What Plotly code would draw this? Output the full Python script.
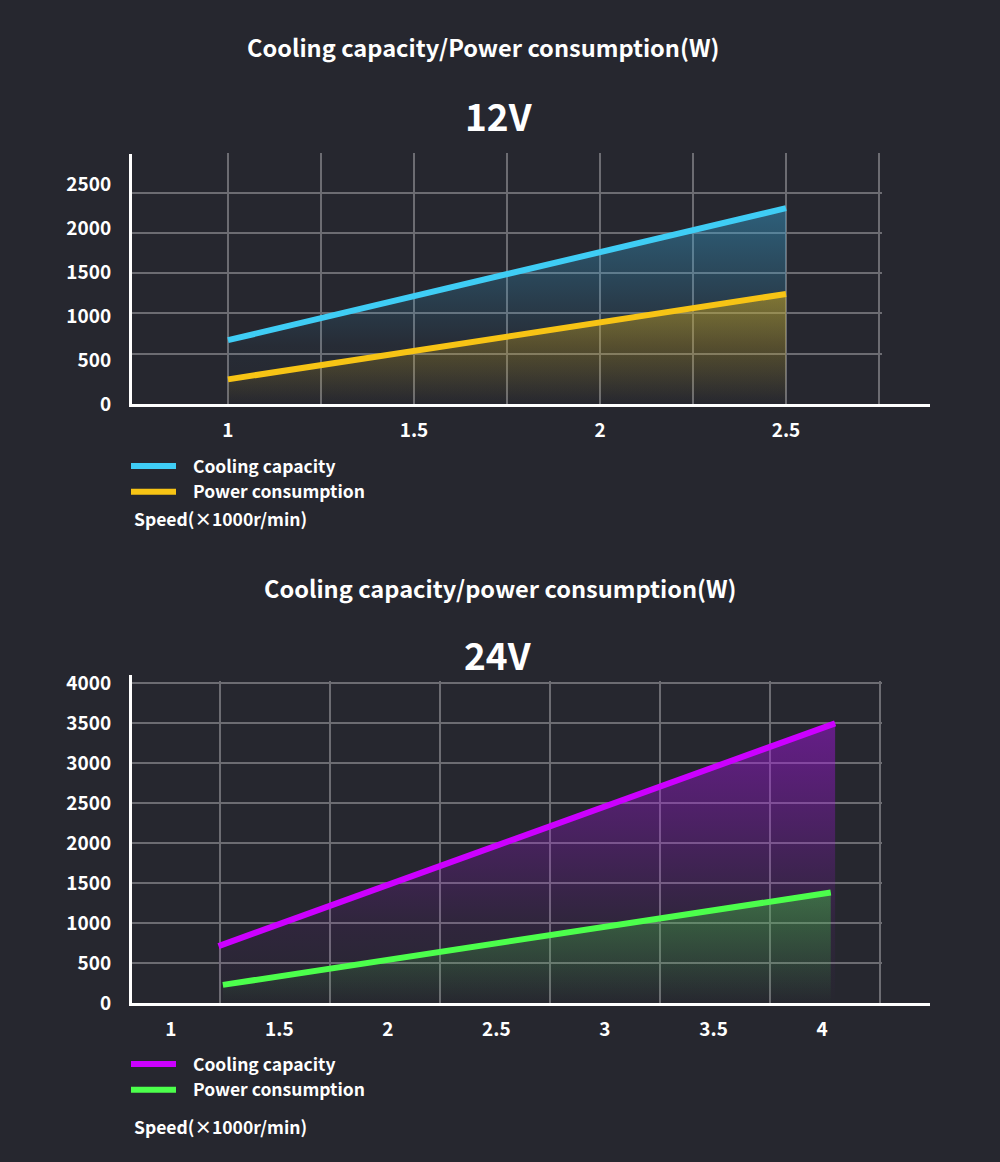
import plotly.graph_objects as go

# ---------------- data ----------------
speed_12v = [1.0, 2.5]
cooling_12v = [725, 2225]
power_12v = [280, 1250]

speed_24v_cooling = [1.22, 4.06]
cooling_24v = [715, 3500]
speed_24v_power = [1.24, 4.04]
power_24v = [230, 1385]

x_ticks_12v = [1, 1.5, 2, 2.5]
x_ticklabels_12v = ["1", "1.5", "2", "2.5"]
y_ticks_12v = [0, 500, 1000, 1500, 2000, 2500]

x_ticks_24v = [1, 1.5, 2, 2.5, 3, 3.5, 4]
x_ticklabels_24v = ["1", "1.5", "2", "2.5", "3", "3.5", "4"]
y_ticks_24v = [0, 500, 1000, 1500, 2000, 2500, 3000, 3500, 4000]

series_names = ["Cooling capacity", "Power consumption"]
title_12v = "Cooling capacity/Power consumption(W)"
title_24v = "Cooling capacity/power consumption(W)"
x_title = "Speed(×1000r/min)"

# ---------------- styling ----------------
W, H = 1000, 1162
BG = "#26272f"
GRID = "#6c6c72"
FONT = "Noto Sans CJK SC"
PAD = "\u00a0\u00a0\u00a0"

def px(v):
    return v / W

def py(v):
    return 1 - v / H

C_BLUE = "#3fcdf5"
C_YELLOW = "#f7c415"
C_PURPLE = "#cc00ff"
C_GREEN = "#4cff4c"

fig = go.Figure()

# grid-only subplots (drawn first so they sit beneath the data)
grid_x_12v = [1, 1.25, 1.5, 1.75, 2, 2.25, 2.5, 2.75]
grid_y_12v = [1, 2, 3, 4, 5]
grid_x_24v = [0, 1, 2, 3, 4, 5, 6]
grid_y_24v = [500, 1000, 1500, 2000, 2500, 3000, 3500, 4000]

fig.add_trace(go.Scatter(x=[None], y=[None], xaxis="x", yaxis="y", showlegend=False, hoverinfo="skip"))
fig.add_trace(go.Scatter(x=[None], y=[None], xaxis="x2", yaxis="y2", showlegend=False, hoverinfo="skip"))


def fill_trace(x, y, color_rgb, stops, xa, ya):
    r, g, b = color_rgb
    return go.Scatter(
        x=x, y=y, xaxis=xa, yaxis=ya, mode="lines",
        line=dict(width=0), fill="tozeroy",
        fillgradient=dict(type="vertical", colorscale=[
            [s, f"rgba({r},{g},{b},{a})"] for s, a in stops]),
        showlegend=False, hoverinfo="skip")


def line_trace(x, y, color, name, xa, ya, legend):
    return go.Scatter(
        x=x, y=y, xaxis=xa, yaxis=ya, mode="lines", name=PAD + name,
        line=dict(color=color, width=6), legend=legend)

# 12V
fig.add_trace(fill_trace(speed_12v, cooling_12v, (55, 165, 215),
                         [(0, 0), (0.3, 0.04), (0.6, 0.22), (1, 0.45)], "x3", "y3"))
fig.add_trace(fill_trace(speed_12v, power_12v, (215, 172, 25),
                         [(0, 0), (0.35, 0.18), (1, 0.5)], "x3", "y3"))
fig.add_trace(line_trace(speed_12v, cooling_12v, C_BLUE, series_names[0], "x3", "y3", "legend"))
fig.add_trace(line_trace(speed_12v, power_12v, C_YELLOW, series_names[1], "x3", "y3", "legend"))

# 24V
fig.add_trace(fill_trace(speed_24v_cooling, cooling_24v, (165, 20, 225),
                         [(0, 0), (0.3, 0.08), (0.65, 0.3), (1, 0.5)], "x4", "y4"))
fig.add_trace(fill_trace(speed_24v_power, power_24v, (70, 205, 70),
                         [(0, 0), (0.4, 0.18), (1, 0.42)], "x4", "y4"))
fig.add_trace(line_trace(speed_24v_cooling, cooling_24v, C_PURPLE, series_names[0], "x4", "y4", "legend2"))
fig.add_trace(line_trace(speed_24v_power, power_24v, C_GREEN, series_names[1], "x4", "y4", "legend2"))

tickfont = dict(family=FONT, size=19, color="white", weight="bold")

grid_axis = dict(showgrid=True, gridcolor=GRID, gridwidth=2, showticklabels=False,
                 zeroline=False, showline=False, ticks="", fixedrange=True)
data_axis = dict(showgrid=False, zeroline=False, showline=True, linecolor="white",
                 linewidth=3, ticks="", tickfont=tickfont, fixedrange=True,
                 automargin=False)

legend_font = dict(family=FONT, size=17.5, color="white", weight="bold")

fig.update_layout(
    width=W, height=H,
    margin=dict(l=0, r=0, t=0, b=0, autoexpand=False),
    paper_bgcolor=BG, plot_bgcolor="rgba(0,0,0,0)",
    # grid subplots
    xaxis=dict(grid_axis, domain=[px(132), px(882)], range=[0.742, 2.758],
               tickvals=grid_x_12v, anchor="y"),
    yaxis=dict(grid_axis, domain=[py(404), py(153)], range=[-0.25, 5.986],
               tickvals=grid_y_12v, anchor="x"),
    xaxis2=dict(grid_axis, domain=[px(132), px(882)], range=[-0.8, 6.018],
                tickvals=grid_x_24v, anchor="y2"),
    yaxis2=dict(grid_axis, domain=[py(1003.3), py(681)], range=[0, 4029],
                tickvals=grid_y_24v, anchor="x2"),
    # data subplots
    xaxis3=dict(data_axis, domain=[px(132), px(930)], range=[0.742, 2.887],
                tickvals=x_ticks_12v, ticktext=x_ticklabels_12v, anchor="y3",
                ticklabelstandoff=7),
    yaxis3=dict(data_axis, domain=[py(404), py(154)], range=[0, 2840],
                tickvals=y_ticks_12v, anchor="x3", ticklabelstandoff=14),
    xaxis4=dict(data_axis, domain=[px(132), px(930)], range=[0.8215, 4.497],
                tickvals=x_ticks_24v, ticktext=x_ticklabels_24v, anchor="y4",
                ticklabelstandoff=7),
    yaxis4=dict(data_axis, domain=[py(1003.3), py(675)], range=[0, 4104],
                tickvals=y_ticks_24v, anchor="x4", ticklabelstandoff=14),
    legend=dict(x=px(126), y=py(448), xanchor="left", yanchor="top",
                bgcolor="rgba(0,0,0,0)", itemwidth=45, font=legend_font),
    legend2=dict(x=px(126), y=py(1046), xanchor="left", yanchor="top",
                 bgcolor="rgba(0,0,0,0)", itemwidth=45, font=legend_font),
    showlegend=True,
)

ann_font_title = dict(family=FONT, size=23.6, color="white", weight="bold")
ann_font_big = dict(family=FONT, size=37, color="white", weight="bold")
ann_font_small = dict(family=FONT, size=17.5, color="white", weight="bold")

annotations = [
    dict(text=title_12v, x=px(483), y=py(47), font=ann_font_title),
    dict(text="12V", x=px(499), y=py(115), font=ann_font_big),
    dict(text=x_title, x=px(132), y=py(518), xanchor="left", font=ann_font_small),
    dict(text=title_24v, x=px(500), y=py(588), font=ann_font_title),
    dict(text="24V", x=px(498), y=py(654), font=ann_font_big),
    dict(text=x_title, x=px(132), y=py(1126), xanchor="left", font=ann_font_small),
]
for a in annotations:
    a.setdefault("xanchor", "center")
    a.update(xref="paper", yref="paper", yanchor="middle", showarrow=False)
fig.update_layout(annotations=annotations)

fig.write_html("out.html", config={"displayModeBar": False},
               post_script="document.body.style.margin='0';")
